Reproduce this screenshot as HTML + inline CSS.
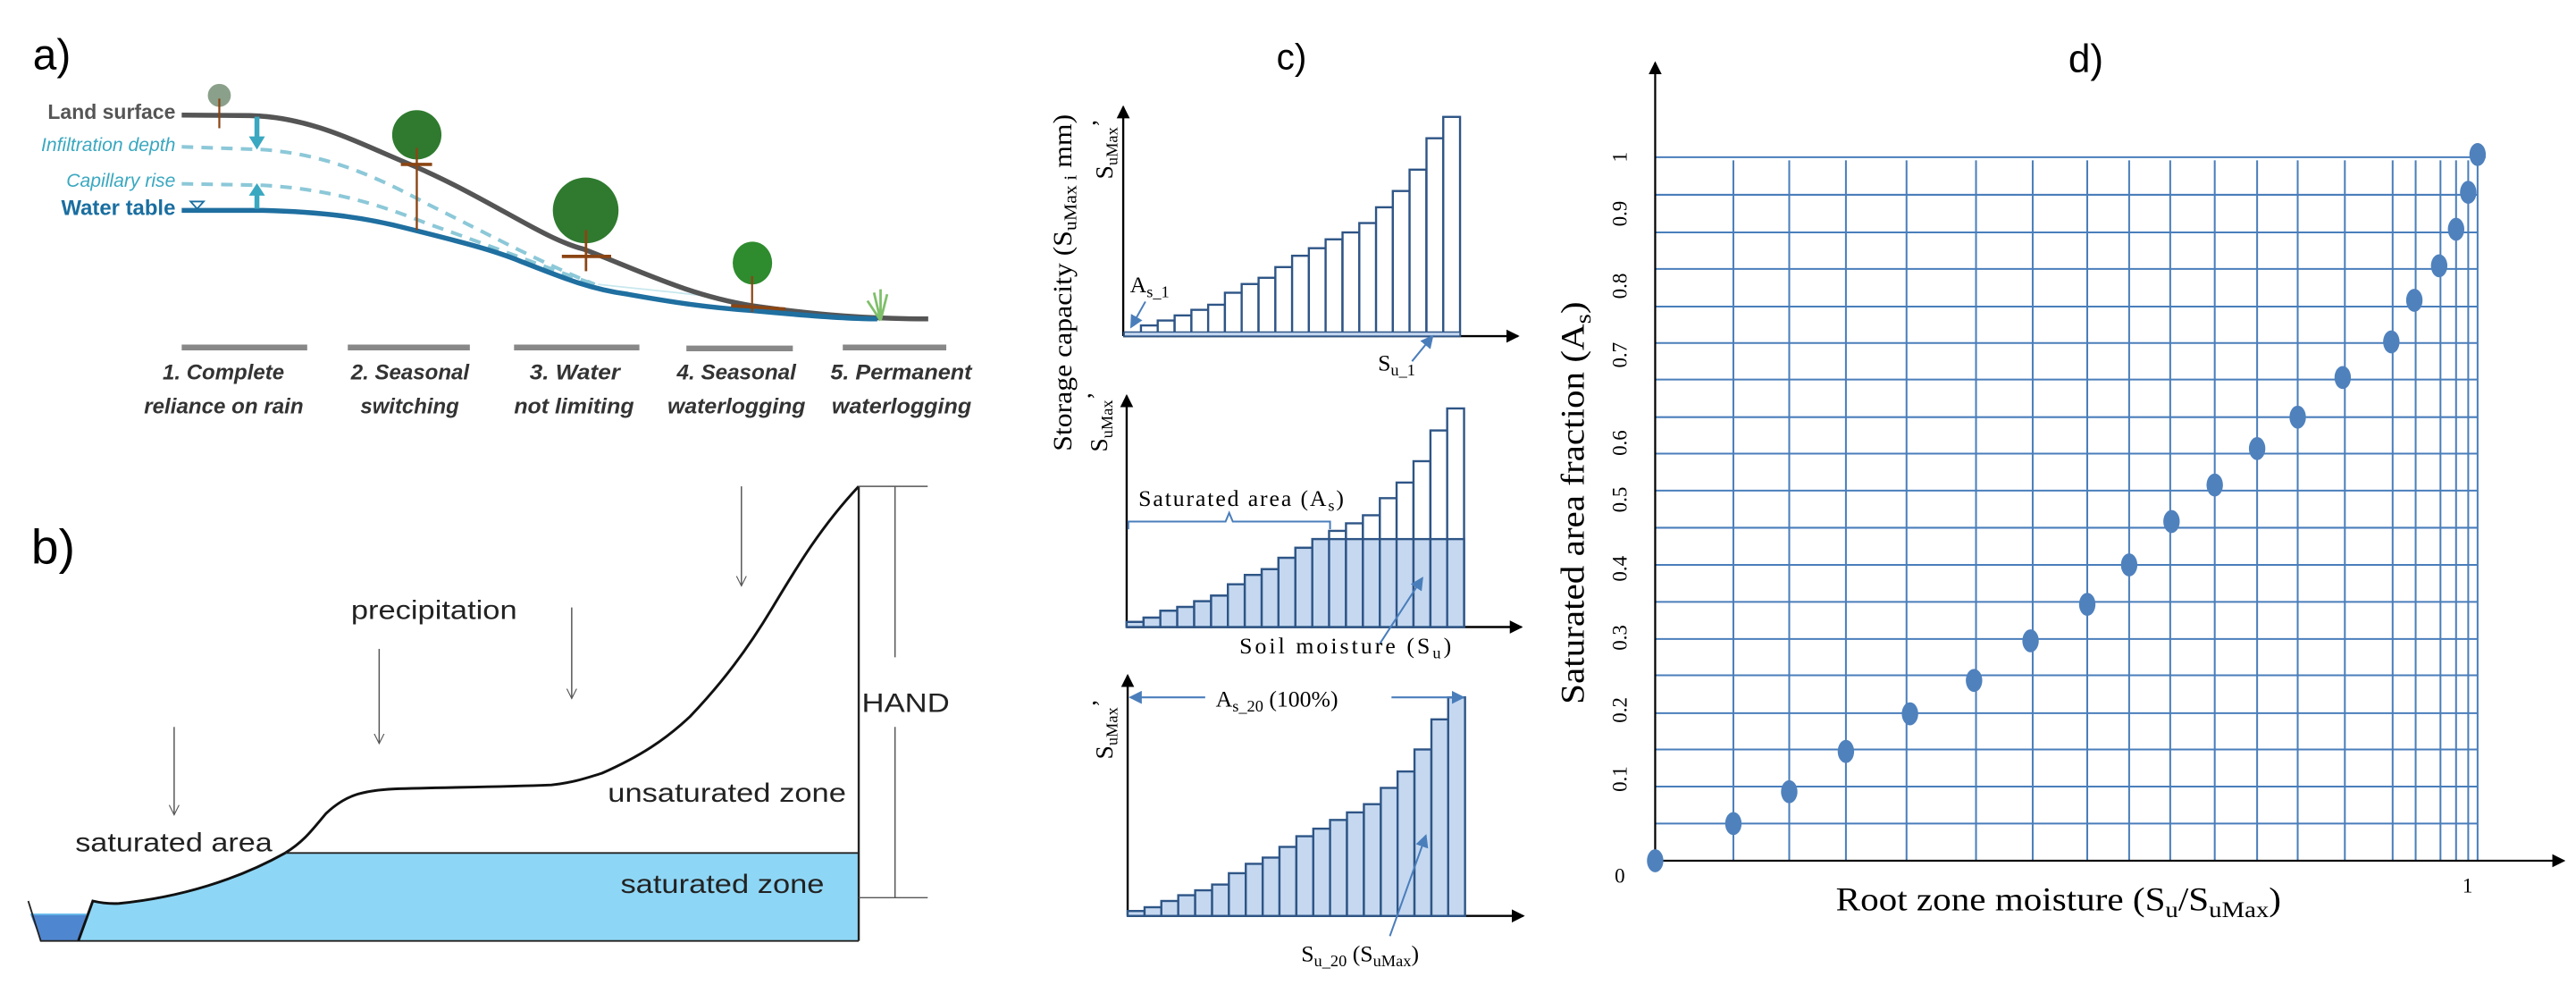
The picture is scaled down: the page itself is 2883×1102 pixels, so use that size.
<!DOCTYPE html>
<html><head><meta charset="utf-8"><style>html,body{margin:0;padding:0;background:#fff}svg{display:block}</style></head><body>
<svg width="2883" height="1102" viewBox="0 0 1568 599.3" xmlns="http://www.w3.org/2000/svg" font-family="Liberation Sans, sans-serif">
<defs>
<marker id="ah" markerWidth="8" markerHeight="8" refX="7" refY="4" orient="auto" markerUnits="userSpaceOnUse"><path d="M0,0 L8,4 L0,8 z" fill="#000"/></marker>
<marker id="ab" markerWidth="8" markerHeight="8" refX="7" refY="4" orient="auto" markerUnits="userSpaceOnUse"><path d="M0,0 L8,4 L0,8 z" fill="#4a7ebb"/></marker>
<marker id="ao" markerWidth="8" markerHeight="8" refX="6" refY="4" orient="auto" markerUnits="userSpaceOnUse"><path d="M0,1 L6,4 L0,7" fill="none" stroke="#555" stroke-width="0.6"/></marker>
</defs>
<rect width="1568" height="599.3" fill="#fff"/>

<!-- ===== Panel a ===== -->
<text x="20" y="42" font-size="26">a)</text>
<path d="M364,173 C410,178 440,180 458,186" fill="none" stroke="#c8e8ee" stroke-width="1"/>
<path d="M110.6,89.3 L160,91 C200,94 230,108 260,124 C300,144 330,160 362,173" fill="none" stroke="#8cc8d8" stroke-width="2.2" stroke-dasharray="7,5"/>
<path d="M110.6,111.8 L160,112.7 C200,115 230,124 260,136 C300,150 330,162 362,173" fill="none" stroke="#8cc8d8" stroke-width="2.2" stroke-dasharray="7,5"/>
<path d="M110.6,70 L152,70.3 C190,71 220,88 252,101 C300,122 330,145 355,151.5 C390,165 420,180 458,186 C500,192 530,194 565,194" fill="none" stroke="#555" stroke-width="3"/>
<path d="M110.6,128 L160,128 C200,129 225,133 248,139 C280,147 300,152 317,159 C345,170 360,176 382,179 C410,184 430,187 458,189 C490,192 515,194 534,194" fill="none" stroke="#1f6fa0" stroke-width="3"/>
<text x="106.8" y="72.2" font-size="12.5" font-weight="bold" fill="#555" text-anchor="end">Land surface</text>
<text x="106.8" y="92" font-size="11.5" font-style="italic" fill="#3aa8c0" text-anchor="end">Infiltration depth</text>
<text x="106.8" y="113.6" font-size="11.5" font-style="italic" fill="#3aa8c0" text-anchor="end">Capillary rise</text>
<text x="106.8" y="130.8" font-size="13" font-weight="bold" fill="#1a6ea0" text-anchor="end">Water table</text>
<path d="M116,122.6 L124,122.6 L120,127 z" fill="none" stroke="#1a6ea0" stroke-width="1"/>
<line x1="156.4" y1="71" x2="156.4" y2="84" stroke="#3aa8c0" stroke-width="3"/><path d="M151.5,83 L161.3,83 L156.4,91 z" fill="#3aa8c0"/>
<line x1="156.4" y1="127" x2="156.4" y2="118" stroke="#3aa8c0" stroke-width="3"/><path d="M151.5,119 L161.3,119 L156.4,111.5 z" fill="#3aa8c0"/>
<!-- trees -->
<circle cx="133.5" cy="58" r="7" fill="#8aa08a"/><line x1="133.5" y1="60" x2="133.5" y2="78" stroke="#8b4513" stroke-width="1.2"/>
<circle cx="253.7" cy="82" r="15" fill="#2f7a2f"/><line x1="253.7" y1="90" x2="253.7" y2="140" stroke="#8b4513" stroke-width="1.3"/><line x1="244" y1="100" x2="263" y2="100" stroke="#8b4513" stroke-width="2"/>
<circle cx="356.5" cy="128" r="20" fill="#2f7a2f"/><line x1="356.7" y1="140" x2="356.7" y2="165" stroke="#8b4513" stroke-width="1.5"/><line x1="342" y1="156" x2="372" y2="156" stroke="#8b4513" stroke-width="2"/>
<ellipse cx="458" cy="160" rx="12" ry="13" fill="#2e8b2e"/><line x1="457.8" y1="168" x2="457.8" y2="190" stroke="#8b4513" stroke-width="1.2"/><line x1="445" y1="186" x2="478" y2="188" stroke="#8b4513" stroke-width="2"/>
<path d="M536,195 L532,178 M536,195 L536,176 M536,195 L540,179 M536,195 L528,183" stroke="#7fbf6a" stroke-width="1.5"/>
<!-- bars & labels -->
<g stroke="#888" stroke-width="3.5">
<line x1="110.6" y1="211.4" x2="187" y2="211.4"/><line x1="211.7" y1="211.4" x2="286" y2="211.4"/><line x1="312.9" y1="211.4" x2="389.2" y2="211.4"/><line x1="417.8" y1="212" x2="482.6" y2="212"/><line x1="513" y1="211.4" x2="576" y2="211.4"/>
</g>
<g font-size="13" font-weight="bold" font-style="italic" fill="#333" lengthAdjust="spacingAndGlyphs">
<text x="99" y="230.9" textLength="74" lengthAdjust="spacingAndGlyphs">1. Complete</text>
<text x="87.7" y="251.6" textLength="97" lengthAdjust="spacingAndGlyphs">reliance on rain</text>
<text x="213.6" y="230.9" textLength="72" lengthAdjust="spacingAndGlyphs">2. Seasonal</text>
<text x="219.4" y="251.6" textLength="60" lengthAdjust="spacingAndGlyphs">switching</text>
<text x="322.4" y="230.9" textLength="55" lengthAdjust="spacingAndGlyphs">3. Water</text>
<text x="312.9" y="251.6" textLength="73" lengthAdjust="spacingAndGlyphs">not limiting</text>
<text x="412" y="230.9" textLength="72.5" lengthAdjust="spacingAndGlyphs">4. Seasonal</text>
<text x="406.3" y="251.6" textLength="84" lengthAdjust="spacingAndGlyphs">waterlogging</text>
<text x="505.5" y="230.9" textLength="86" lengthAdjust="spacingAndGlyphs">5. Permanent</text>
<text x="506.3" y="251.6" textLength="85" lengthAdjust="spacingAndGlyphs">waterlogging</text>
</g>

<!-- ===== Panel b ===== -->
<text x="19" y="343" font-size="30">b)</text>
<path d="M47.7,572.5 L56.5,548.2 C62,549.5 67,550 72.5,549.7 C110,546 145,535 173.6,519 L522.7,519 L522.7,572.5 Z" fill="#8ed6f5"/>
<path d="M18.5,556.3 L52.6,556.3 L47.7,572.5 L24.8,572.5 Z" fill="#4f86d0"/>
<line x1="18.5" y1="556.3" x2="52.6" y2="556.3" stroke="#6cc0ee" stroke-width="1"/>
<path d="M17.2,548.2 L24.8,572.5 L522.7,572.5" fill="none" stroke="#222" stroke-width="1"/>
<path d="M47.7,572.5 L56.5,548.2 C62,549.5 67,550 72.5,549.7 C110,546 145,535 173.6,519 C185,512 190,505 198.4,495 C210,484 220,481 240,480 C270,479 300,479 335.7,477.6 C350,476 358,473 366.3,470.5 C390,460 405,450 420,436 C440,415 455,395 470,370 C485,345 500,320 522.7,295.9" fill="none" stroke="#111" stroke-width="1.6"/>
<line x1="173.6" y1="519" x2="522.7" y2="519" stroke="#222" stroke-width="1"/>
<line x1="522.7" y1="295.9" x2="522.7" y2="572.5" stroke="#222" stroke-width="1.3"/>
<g stroke="#555" stroke-width="0.8">
<line x1="522.7" y1="295.9" x2="564.7" y2="295.9"/><line x1="522.7" y1="546.2" x2="564.7" y2="546.2"/>
<line x1="544.8" y1="295.9" x2="544.8" y2="399.9"/><line x1="544.8" y1="442.3" x2="544.8" y2="546.2"/>
<line x1="106" y1="442.3" x2="106" y2="495.8" marker-end="url(#ao)"/>
<line x1="230.8" y1="394.8" x2="230.8" y2="452.4" marker-end="url(#ao)"/>
<line x1="348" y1="369.6" x2="348" y2="425" marker-end="url(#ao)"/>
<line x1="451.3" y1="295.9" x2="451.3" y2="356.5" marker-end="url(#ao)"/>
</g>
<g font-size="16" fill="#222">
<text x="524.6" y="433.2" textLength="53.4" lengthAdjust="spacingAndGlyphs">HAND</text>
<text x="213.7" y="376.7" textLength="101" lengthAdjust="spacingAndGlyphs">precipitation</text>
<text x="45.8" y="518" textLength="120" lengthAdjust="spacingAndGlyphs">saturated area</text>
<text x="370" y="487.7" textLength="145" lengthAdjust="spacingAndGlyphs">unsaturated zone</text>
<text x="377.7" y="543.2" textLength="124" lengthAdjust="spacingAndGlyphs">saturated zone</text>
</g>

<!-- ===== Panel c ===== -->
<text x="777" y="42" font-size="22">c)</text>
<g stroke="#000" stroke-width="1.3">
<line x1="683.7" y1="204.5" x2="924" y2="204.5" marker-end="url(#ah)"/><line x1="683.7" y1="204.5" x2="683.7" y2="65" marker-end="url(#ah)"/>
<line x1="685.8" y1="381.5" x2="926" y2="381.5" marker-end="url(#ah)"/><line x1="685.8" y1="381.5" x2="685.8" y2="240.8" marker-end="url(#ah)"/>
<line x1="686.4" y1="557.3" x2="927.2" y2="557.3" marker-end="url(#ah)"/><line x1="686.4" y1="557.3" x2="686.4" y2="411" marker-end="url(#ah)"/>
</g>
<!-- top bars -->
<g fill="#fff" stroke="#2e5586" stroke-width="1.3">
<rect x="684.3" y="202.6" width="10.22" height="1.9"/><rect x="694.5" y="198" width="10.22" height="6.5"/><rect x="704.7" y="195" width="10.22" height="9.5"/><rect x="715" y="191.9" width="10.22" height="12.6"/><rect x="725.2" y="188.5" width="10.22" height="16"/><rect x="735.4" y="185.4" width="10.22" height="19.1"/><rect x="745.6" y="178.1" width="10.22" height="26.4"/><rect x="755.8" y="172.8" width="10.22" height="31.7"/><rect x="766.1" y="169" width="10.22" height="35.5"/><rect x="776.3" y="162.5" width="10.22" height="42"/><rect x="786.5" y="155.6" width="10.22" height="48.9"/><rect x="796.7" y="151" width="10.22" height="53.5"/><rect x="806.9" y="145.6" width="10.22" height="58.9"/><rect x="817.2" y="141.4" width="10.22" height="63.1"/><rect x="827.4" y="135.7" width="10.22" height="68.8"/><rect x="837.6" y="126.1" width="10.22" height="78.4"/><rect x="847.8" y="116.2" width="10.22" height="88.3"/><rect x="858" y="103.2" width="10.22" height="101.3"/><rect x="868.3" y="84.1" width="10.22" height="120.4"/><rect x="878.5" y="71.1" width="10.22" height="133.4"/>
</g>
<rect x="684.3" y="202" width="204.4" height="2.5" fill="#c5d8f0" stroke="#2e5586" stroke-width="0.8"/>
<!-- middle bars outlines -->
<g fill="#fff" stroke="#2e5586" stroke-width="1.3">
<rect x="685.8" y="378.4" width="10.27" height="3.1"/><rect x="696.1" y="375.8" width="10.27" height="5.7"/><rect x="706.3" y="371.6" width="10.27" height="9.9"/><rect x="716.6" y="369.3" width="10.27" height="12.2"/><rect x="726.9" y="365.8" width="10.27" height="15.7"/><rect x="737.2" y="362.4" width="10.27" height="19.1"/><rect x="747.4" y="355.5" width="10.27" height="26"/><rect x="757.7" y="349.8" width="10.27" height="31.7"/><rect x="768" y="346.3" width="10.27" height="35.2"/><rect x="778.2" y="339.4" width="10.27" height="42.1"/><rect x="788.5" y="333.3" width="10.27" height="48.2"/><rect x="798.8" y="328" width="10.27" height="53.5"/><rect x="809" y="323" width="10.27" height="58.5"/><rect x="819.3" y="318.4" width="10.27" height="63.1"/><rect x="829.6" y="313.5" width="10.27" height="68"/><rect x="839.9" y="303.1" width="10.27" height="78.4"/><rect x="850.1" y="293.6" width="10.27" height="87.9"/><rect x="860.4" y="280.6" width="10.27" height="100.9"/><rect x="870.7" y="261.9" width="10.27" height="119.6"/><rect x="880.9" y="248.5" width="10.27" height="133"/>
</g>
<g fill="#c5d8f0" stroke="#2e5586" stroke-width="1.3">
<rect x="685.8" y="378.4" width="10.27" height="3.1"/><rect x="696.1" y="375.8" width="10.27" height="5.7"/><rect x="706.3" y="371.6" width="10.27" height="9.9"/><rect x="716.6" y="369.3" width="10.27" height="12.2"/><rect x="726.9" y="365.8" width="10.27" height="15.7"/><rect x="737.2" y="362.4" width="10.27" height="19.1"/><rect x="747.4" y="355.5" width="10.27" height="26"/><rect x="757.7" y="349.8" width="10.27" height="31.7"/><rect x="768" y="346.3" width="10.27" height="35.2"/><rect x="778.2" y="339.4" width="10.27" height="42.1"/><rect x="788.5" y="333.3" width="10.27" height="48.2"/>
<rect x="798.8" y="328" width="10.27" height="53.5"/><rect x="809" y="328" width="10.27" height="53.5"/><rect x="819.3" y="328" width="10.27" height="53.5"/><rect x="829.6" y="328" width="10.27" height="53.5"/><rect x="839.9" y="328" width="10.27" height="53.5"/><rect x="850.1" y="328" width="10.27" height="53.5"/><rect x="860.4" y="328" width="10.27" height="53.5"/><rect x="870.7" y="328" width="10.27" height="53.5"/><rect x="880.9" y="328" width="10.27" height="53.5"/>
</g>
<!-- bottom bars -->
<g fill="#c5d8f0" stroke="#2e5586" stroke-width="1.3">
<rect x="686.4" y="554.3" width="10.27" height="3"/><rect x="696.7" y="552" width="10.27" height="5.3"/><rect x="706.9" y="548.2" width="10.27" height="9.1"/><rect x="717.2" y="544.7" width="10.27" height="12.6"/><rect x="727.5" y="541.7" width="10.27" height="15.6"/><rect x="737.8" y="538.2" width="10.27" height="19.1"/><rect x="748" y="531.3" width="10.27" height="26"/><rect x="758.3" y="525.6" width="10.27" height="31.7"/><rect x="768.6" y="521.8" width="10.27" height="35.5"/><rect x="778.8" y="515.3" width="10.27" height="42"/><rect x="789.1" y="508.8" width="10.27" height="48.5"/><rect x="799.4" y="504.2" width="10.27" height="53.1"/><rect x="809.6" y="498.9" width="10.27" height="58.4"/><rect x="819.9" y="494.3" width="10.27" height="63"/><rect x="830.2" y="489.3" width="10.27" height="68"/><rect x="840.5" y="479.4" width="10.27" height="77.9"/><rect x="850.7" y="469.4" width="10.27" height="87.9"/><rect x="861" y="456" width="10.27" height="101.3"/><rect x="871.3" y="437.7" width="10.27" height="119.6"/><rect x="881.5" y="424.3" width="10.27" height="133"/>
</g>
<!-- c annotations -->
<g stroke="#4a7ebb" stroke-width="1.1" fill="none">
<line x1="697.2" y1="183.5" x2="688.5" y2="199" marker-end="url(#ab)"/>
<line x1="859.5" y1="219.8" x2="872" y2="204.5" marker-end="url(#ab)"/>
<path d="M686.8,322 L686.8,317.3 L746,317.3 L748.2,312 L750.4,317.3 L809.6,317.3 L809.6,322"/>
<line x1="839.8" y1="391.8" x2="865.8" y2="351.7" marker-end="url(#ab)"/>
<line x1="733.6" y1="424.3" x2="688" y2="424.3" marker-end="url(#ab)"/>
<line x1="847" y1="424.3" x2="890.7" y2="424.3" marker-end="url(#ab)"/>
<line x1="846" y1="569.6" x2="867.9" y2="508.4" marker-end="url(#ab)"/>
</g>
<g font-family="Liberation Serif, serif" fill="#000">
<text x="687.8" y="177.7" font-size="14">A<tspan font-size="10" dy="3">s_1</tspan></text>
<text x="838.7" y="225.5" font-size="14">S<tspan font-size="10" dy="3">u_1</tspan></text>
<text x="693" y="307.7" font-size="14" textLength="125" lengthAdjust="spacing">Saturated area (A<tspan font-size="10" dy="3">s</tspan><tspan dy="-3">)</tspan></text>
<text x="754.4" y="397.6" font-size="14" textLength="129" lengthAdjust="spacing">Soil moisture (S<tspan font-size="10" dy="3">u</tspan><tspan dy="-3">)</tspan></text>
<text x="740" y="430" font-size="14">A<tspan font-size="10" dy="3">s_20</tspan><tspan dy="-3"> (100%)</tspan></text>
<text x="792" y="584.9" font-size="14">S<tspan font-size="10" dy="3">u_20</tspan><tspan dy="-3"> (S</tspan><tspan font-size="10" dy="3">uMax</tspan><tspan dy="-3">)</tspan></text>
<text transform="translate(652,172) rotate(-90)" text-anchor="middle" font-size="16" textLength="205" lengthAdjust="spacingAndGlyphs">Storage capacity (S<tspan font-size="11" dy="3">uMax i</tspan><tspan dy="-3"> mm)</tspan></text>
<text transform="translate(677,109) rotate(-90)" font-size="15">S<tspan font-size="10" dy="3">uMax</tspan><tspan dy="-5">’</tspan></text>
<text transform="translate(674,275) rotate(-90)" font-size="15">S<tspan font-size="10" dy="3">uMax</tspan><tspan dy="-5">’</tspan></text>
<text transform="translate(677,462) rotate(-90)" font-size="15">S<tspan font-size="10" dy="3">uMax</tspan><tspan dy="-5">’</tspan></text>
</g>

<!-- ===== Panel d ===== -->
<text x="1259" y="44" font-size="24">d)</text>
<g stroke="#4a7ebb" stroke-width="1.1">
<line x1="1007.5" y1="95.6" x2="1513" y2="95.6"/><line x1="1007.5" y1="118.5" x2="1508" y2="118.5"/><line x1="1007.5" y1="141.4" x2="1508" y2="141.4"/><line x1="1007.5" y1="163.6" x2="1508" y2="163.6"/><line x1="1007.5" y1="186.5" x2="1508" y2="186.5"/><line x1="1007.5" y1="208.7" x2="1508" y2="208.7"/><line x1="1007.5" y1="230.9" x2="1508" y2="230.9"/><line x1="1007.5" y1="253.8" x2="1508" y2="253.8"/><line x1="1007.5" y1="276" x2="1508" y2="276"/><line x1="1007.5" y1="298.5" x2="1508" y2="298.5"/><line x1="1007.5" y1="321.1" x2="1508" y2="321.1"/><line x1="1007.5" y1="343.7" x2="1508" y2="343.7"/><line x1="1007.5" y1="366.2" x2="1508" y2="366.2"/><line x1="1007.5" y1="388.8" x2="1508" y2="388.8"/><line x1="1007.5" y1="410.9" x2="1508" y2="410.9"/><line x1="1007.5" y1="433.9" x2="1508" y2="433.9"/><line x1="1007.5" y1="456" x2="1508" y2="456"/><line x1="1007.5" y1="478.6" x2="1508" y2="478.6"/><line x1="1007.5" y1="501.1" x2="1508" y2="501.1"/>
<line x1="1055.1" y1="97.5" x2="1055.1" y2="523.7"/><line x1="1089.1" y1="97.5" x2="1089.1" y2="523.7"/><line x1="1123.6" y1="97.5" x2="1123.6" y2="523.7"/><line x1="1160.5" y1="97.5" x2="1160.5" y2="523.7"/><line x1="1202.8" y1="97.5" x2="1202.8" y2="523.7"/><line x1="1237.3" y1="97.5" x2="1237.3" y2="523.7"/><line x1="1270.5" y1="97.5" x2="1270.5" y2="523.7"/><line x1="1296" y1="97.5" x2="1296" y2="523.7"/><line x1="1321" y1="97.5" x2="1321" y2="523.7"/><line x1="1348.1" y1="97.5" x2="1348.1" y2="523.7"/><line x1="1373.9" y1="97.5" x2="1373.9" y2="523.7"/><line x1="1398.6" y1="97.5" x2="1398.6" y2="523.7"/><line x1="1427.3" y1="97.5" x2="1427.3" y2="523.7"/><line x1="1456.4" y1="97.5" x2="1456.4" y2="523.7"/><line x1="1470.4" y1="97.5" x2="1470.4" y2="523.7"/><line x1="1485.5" y1="97.5" x2="1485.5" y2="523.7"/><line x1="1495" y1="97.5" x2="1495" y2="523.7"/><line x1="1502.4" y1="97.5" x2="1502.4" y2="523.7"/><line x1="1508.1" y1="97.5" x2="1508.1" y2="523.7"/>
</g>
<g stroke="#000" stroke-width="1.2">
<line x1="1007.5" y1="523.7" x2="1007.5" y2="38.2" marker-end="url(#ah)"/>
<line x1="1007.5" y1="523.7" x2="1560.6" y2="523.7" marker-end="url(#ah)"/>
</g>
<g fill="#4f81bd">
<ellipse cx="1007.5" cy="523.7" rx="5" ry="7"/><ellipse cx="1055.1" cy="501.1" rx="5" ry="7"/><ellipse cx="1089.1" cy="481.7" rx="5" ry="7"/><ellipse cx="1123.6" cy="457.2" rx="5" ry="7"/><ellipse cx="1162.6" cy="434.3" rx="5" ry="7"/><ellipse cx="1201.6" cy="414" rx="5" ry="7"/><ellipse cx="1236" cy="389.9" rx="5" ry="7"/><ellipse cx="1270.5" cy="367.7" rx="5" ry="7"/><ellipse cx="1296" cy="343.7" rx="5" ry="7"/><ellipse cx="1321.8" cy="317.3" rx="5" ry="7"/><ellipse cx="1348.1" cy="295.1" rx="5" ry="7"/><ellipse cx="1373.9" cy="272.9" rx="5" ry="7"/><ellipse cx="1398.6" cy="253.8" rx="5" ry="7"/><ellipse cx="1426" cy="229.7" rx="5" ry="7"/><ellipse cx="1455.6" cy="208" rx="5" ry="7"/><ellipse cx="1469.6" cy="182.7" rx="5" ry="7"/><ellipse cx="1484.7" cy="161.7" rx="5" ry="7"/><ellipse cx="1495" cy="139.5" rx="5" ry="7"/><ellipse cx="1502.4" cy="117" rx="5" ry="7"/><ellipse cx="1508.1" cy="94" rx="5" ry="7"/>
</g>
<g font-family="Liberation Serif, serif" fill="#000" font-size="12.5" text-anchor="middle">
<text transform="translate(990,95.6) rotate(-90)">1</text>
<text transform="translate(990,130) rotate(-90)">0.9</text>
<text transform="translate(990,174) rotate(-90)">0.8</text>
<text transform="translate(990,216) rotate(-90)">0.7</text>
<text transform="translate(990,269.5) rotate(-90)">0.6</text>
<text transform="translate(990,304) rotate(-90)">0.5</text>
<text transform="translate(990,346) rotate(-90)">0.4</text>
<text transform="translate(990,388) rotate(-90)">0.3</text>
<text transform="translate(990,432) rotate(-90)">0.2</text>
<text transform="translate(990,474) rotate(-90)">0.1</text>
<text x="986" y="537">0</text>
<text x="1502" y="543">1</text>
</g>
<g font-family="Liberation Serif, serif" fill="#000" font-size="20">
<text transform="translate(964,306) rotate(-90)" text-anchor="middle" textLength="245" lengthAdjust="spacingAndGlyphs">Saturated area fraction (A<tspan font-size="14" dy="4">s</tspan><tspan dy="-4">)</tspan></text>
<text x="1117.5" y="554" textLength="271" lengthAdjust="spacingAndGlyphs">Root zone moisture (S<tspan font-size="14" dy="4">u</tspan><tspan dy="-4">/S</tspan><tspan font-size="14" dy="4">uMax</tspan><tspan dy="-4">)</tspan></text>
</g>
</svg>
</body></html>
